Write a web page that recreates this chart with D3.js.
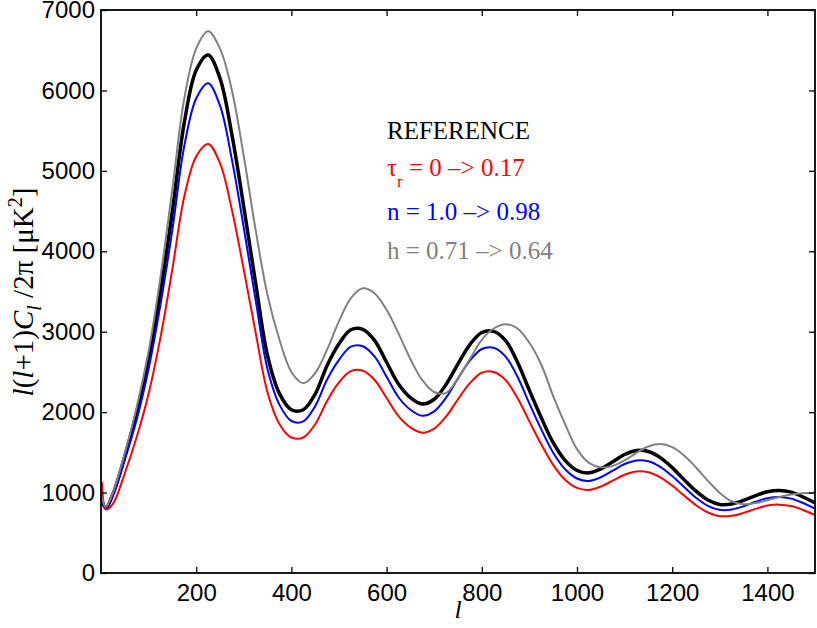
<!DOCTYPE html>
<html><head><meta charset="utf-8">
<script src="https://cdn.jsdelivr.net/npm/d3@7"></script>
<style>
html,body{margin:0;padding:0;background:#fff;}
svg{display:block;}
</style></head>
<body>
<svg id="chart" width="817" height="628"></svg>
<script>
// multipole grid
const ells = [2,10,25,50,75,100,125,150,175,200,225,250,275,300,325,350,375,400,425,450,475,500,525,550,575,600,625,650,675,700,725,750,775,800,825,850,875,900,925,950,975,1000,1025,1050,1075,1100,1125,1150,1175,1200,1225,1250,1275,1300,1325,1350,1375,1400,1425,1450,1475,1500];
// REFERENCE (black)
const reference = [900,810,980,1450,2000,2650,3500,4500,5600,6250,6440,6150,5450,4550,3600,2700,2230,2030,2030,2225,2580,2850,3025,3030,2890,2620,2350,2180,2100,2160,2345,2600,2840,2990,3005,2890,2620,2270,1930,1620,1400,1275,1245,1294,1383,1473,1524,1511,1435,1310,1161,1017,907,852,859,902,962,1011,1027,1005,945,870];
// tau_r = 0 -> 0.17 (red)
const tauSeries = [1135,790,860,1240,1690,2230,2930,3780,4680,5180,5335,5095,4515,3770,2985,2240,1850,1685,1685,1850,2140,2370,2510,2515,2400,2175,1950,1810,1745,1795,1945,2160,2360,2490,2500,2400,2175,1885,1600,1345,1160,1058,1033,1074,1148,1222,1263,1253,1190,1087,963,843,752,707,712,748,797,838,850,832,783,720];
// n = 1.0 -> 0.98 (blue)
const nSeries = [920,810,965,1410,1910,2540,3340,4270,5310,5900,6090,5810,5140,4290,3390,2530,2090,1890,1885,2075,2405,2650,2815,2820,2690,2440,2185,2030,1955,2010,2180,2420,2640,2785,2800,2690,2440,2105,1785,1495,1290,1175,1145,1190,1272,1355,1400,1390,1320,1205,1068,935,835,785,790,830,885,930,945,925,870,800];
// h = 0.71 -> 0.64 (gray)
const hSeries = [950,820,1000,1490,2060,2760,3680,4780,5900,6520,6735,6520,6000,5180,4260,3450,2900,2500,2360,2486,2778,3131,3419,3540,3476,3272,2979,2661,2397,2250,2240,2420,2660,2900,3040,3094,3040,2862,2589,2200,1850,1540,1370,1315,1331,1400,1494,1573,1603,1566,1462,1312,1146,996,892,855,870,905,945,975,992,998];

const xTicks = [200,400,600,800,1000,1200,1400];
const yTicks = [0,1000,2000,3000,4000,5000,6000,7000];
const seriesColors = ["#000000","#ff0000","#0000ff","#808080"];

const svg = d3.select("#chart");
const L = 101, R = 815, T = 10, B = 573;
const x = d3.scaleLinear().domain([0,1500]).range([L,R]);
const y = d3.scaleLinear().domain([0,7000]).range([B,T]);

svg.append("defs").append("clipPath").attr("id","clip")
  .append("rect").attr("x",L).attr("y",T).attr("width",R-L).attr("height",B-T);

const line = d3.line().x((d,i)=>x(ells[i])).y(d=>y(d)).curve(d3.curveCatmullRom.alpha(0.5));

const plot = svg.append("g").attr("clip-path","url(#clip)");
const data = [reference, tauSeries, nSeries, hSeries];
const widths = [3.5, 2, 2, 2];
[0,1,2,3].forEach(k=>{
  plot.append("path").datum(data[k])
    .attr("d", line).attr("fill","none")
    .attr("stroke", seriesColors[k]).attr("stroke-width", widths[k])
    .attr("stroke-linejoin","round");
});

const axisFont = "'Liberation Sans', Arial, Helvetica, sans-serif";
const fmt = d3.format("d");
function styleAxis(g){
  g.select(".domain").remove();
  g.selectAll("line").attr("stroke","#000").attr("stroke-width",1.3);
  g.selectAll("text").attr("fill","#000").style("font-family",axisFont).style("font-size","24px");
}
svg.append("g").attr("transform",`translate(0,${B})`)
  .call(d3.axisBottom(x).tickValues(xTicks).tickFormat(fmt).tickSize(-6).tickPadding(11)).call(styleAxis);
svg.append("g").attr("transform",`translate(0,${T})`)
  .call(d3.axisTop(x).tickValues(xTicks).tickSize(-6).tickFormat("")).call(styleAxis);
svg.append("g").attr("transform",`translate(${L},0)`)
  .call(d3.axisLeft(y).tickValues(yTicks).tickFormat(fmt).tickSize(-6).tickPadding(6)).call(styleAxis);
svg.append("g").attr("transform",`translate(${R},0)`)
  .call(d3.axisRight(y).tickValues(yTicks).tickSize(-6).tickFormat("")).call(styleAxis);

svg.append("rect").attr("x",L).attr("y",T).attr("width",R-L).attr("height",B-T)
  .attr("fill","none").attr("stroke","#000").attr("stroke-width",1.8);

// legend text
const serif = "'Liberation Serif', 'Times New Roman', serif";
const lg = svg.append("g").style("font-family",serif).style("font-size","25px");
lg.append("text").attr("x",387).attr("y",139).attr("fill","#000").text("REFERENCE");
const t2 = lg.append("text").attr("x",387).attr("y",176).attr("fill","#ff0000");
t2.append("tspan").text("τ");
t2.append("tspan").attr("dy",11).style("font-size","17px").text("r");
t2.append("tspan").attr("dy",-11).text(" = 0 –> 0.17");
lg.append("text").attr("x",387).attr("y",220).attr("fill","#0000ff").text("n = 1.0 –> 0.98");
lg.append("text").attr("x",387).attr("y",259).attr("fill","#808080").text("h = 0.71 –> 0.64");

// axis labels
svg.append("text").attr("x",458).attr("y",618).attr("text-anchor","middle")
  .style("font-family",serif).style("font-size","26px").style("font-style","italic").text("l");

const yl = svg.append("text").attr("transform","translate(33,292) rotate(-90)")
  .attr("text-anchor","middle")
  .style("font-family",serif).style("font-size","29px");
yl.append("tspan").style("font-style","italic").text("l");
yl.append("tspan").text("(");
yl.append("tspan").style("font-style","italic").text("l");
yl.append("tspan").text("+1)");
yl.append("tspan").style("font-style","italic").text("C");
yl.append("tspan").attr("dy",8).style("font-size","20px").style("font-style","italic").text("l");
yl.append("tspan").attr("dy",-8).text(" /2π [μK");
yl.append("tspan").attr("dy",-11).style("font-size","20px").text("2");
yl.append("tspan").attr("dy",11).text("]");
</script>
</body></html>
